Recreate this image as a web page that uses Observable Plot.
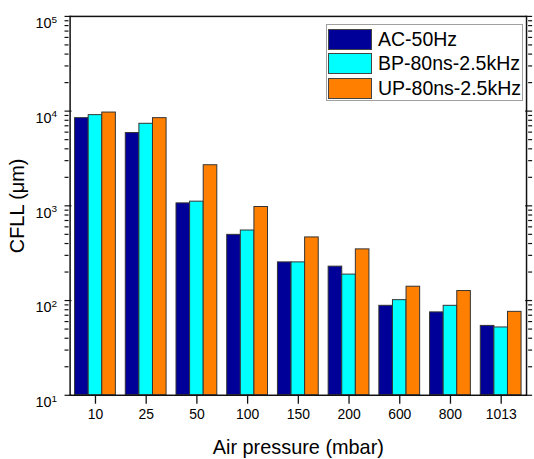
<!DOCTYPE html>
<html><head><meta charset="utf-8">
<script src="https://cdn.jsdelivr.net/npm/d3@7"></script>
<script src="https://cdn.jsdelivr.net/npm/@observablehq/plot@0.6"></script>
<style>
html,body{margin:0;padding:0;overflow:hidden;background:#fff;}
#wrap{position:relative;width:534px;height:459px;overflow:hidden;font-family:"Liberation Sans",Arial,sans-serif;}
#wrap svg{display:block;}
.legend{position:absolute;left:326px;top:24px;width:197px;height:77px;border:1px solid #a0a0a0;background:#fff;box-sizing:border-box;padding-top:2px;}
.legend .row{height:24.5px;display:flex;align-items:center;}
.legend .sw{display:inline-block;width:44px;height:21px;box-sizing:border-box;border:1px solid #444;margin-left:1px;margin-right:6px;}
.legend .lb{font-size:19.5px;color:#000;line-height:1;}
</style></head><body><div id="wrap"></div><script>
const categories = ["10","25","50","100","150","200","600","800","1013"];
const seriesNames = ["AC-50Hz","BP-80ns-2.5kHz","UP-80ns-2.5kHz"];
const acValues = [8430,5870,1062,494,253,228,88,75,54];
const bpValues = [9070,7350,1107,549,253,188,101,88,52];
const upValues = [9660,8430,2683,972,464,347,140,126,76];
const colors = ["#000099","#00FFFF","#FF8000"];
const majorTicks = [10,100,1000,10000,100000];
const minorMultipliers = [2,3,4,5,6,7,8,9];

const minorTicks = majorTicks.slice(0,-1).flatMap(d => minorMultipliers.map(m => m*d));
const seriesValues = [acValues, bpValues, upValues];
const rows = categories.flatMap((c,i) => seriesValues.map((vals,j) => ({cat:c, series:seriesNames[j], value:vals[i]})));

const W = 537, H = 459, mL = 64, mR = 2, mT = 16, mB = 62;
const fxPad = 0.1;
// facet axes sit on the outer facets; shift them back onto the frame edges
const off = fxPad * (W - mL - mR) / (categories.length + 2 * fxPad);

const tickStyle = {text: null, label: null, stroke: "#111", strokeWidth: 1.2};
const chart = Plot.plot({
  width: W, height: H,
  marginLeft: mL, marginRight: mR, marginTop: mT, marginBottom: mB,
  style: {fontFamily: '"Liberation Sans", Arial, sans-serif', fontSize: "14px", color: "#000", background: "#fff", overflow: "visible"},
  fx: {domain: categories, paddingInner: 0, paddingOuter: fxPad, label: null},
  x: {domain: seriesNames, paddingInner: 0, paddingOuter: 0.365, round: false, axis: null},
  y: {type: "log", domain: [10, 1e5]},
  color: {domain: seriesNames, range: colors},
  marks: [
    Plot.barY(rows, {fx: "cat", x: "series", y1: 10, y2: "value", fill: "series", stroke: "#333", strokeWidth: 1}),
    Plot.frame({facet: "super", stroke: "#111", strokeWidth: 1.5}),
    Plot.axisY(majorTicks, {anchor: "left", tickSize: 0, tickPadding: 8, dx: -off, tickFormat: d => "10^" + Math.round(Math.log10(d)), label: null, fontSize: 14.5}),
    Plot.axisY({anchor: "left", ticks: [], tickSize: 0, label: "CFLL (μm)", labelAnchor: "center", labelArrow: "none", dx: -off}),
    Plot.axisY(majorTicks, {...tickStyle, anchor: "left", tickSize: 7, dx: 7 - off}),
    Plot.axisY(minorTicks, {...tickStyle, anchor: "left", tickSize: 4, dx: 4 - off}),
    Plot.axisY(majorTicks, {...tickStyle, anchor: "right", tickSize: 7, dx: -7 + off}),
    Plot.axisY(minorTicks, {...tickStyle, anchor: "right", tickSize: 4, dx: -4 + off}),
    Plot.axisFx({anchor: "bottom", tickSize: 9, tickPadding: 5, fontSize: 14, strokeWidth: 1.3, label: "Air pressure (mbar)", labelAnchor: "center", labelArrow: "none", stroke: "#111"})
  ]
});

const svg = d3.select(chart.tagName.toLowerCase() === "svg" ? chart : chart.querySelector("svg"));
svg.selectAll('[aria-label="y-axis tick label"] text').each(function() {
  const t = this.textContent;
  const parts = t.split("^");
  if (parts.length === 2) {
    const el = d3.select(this);
    el.text(parts[0]);
    el.attr("dy", "0.5em");
    el.append("tspan").attr("dy", "-0.55em").attr("font-size", 10).text(parts[1]);
  }
});
svg.selectAll('[aria-label="y-axis label"] text, [aria-label="fx-axis label"] text').attr("font-size", 20);

document.getElementById("wrap").appendChild(chart);

const legend = d3.select("#wrap").append("div").attr("class", "legend");
seriesNames.forEach((s, i) => {
  const row = legend.append("div").attr("class", "row");
  row.append("span").attr("class", "sw").style("background", colors[i]);
  row.append("span").attr("class", "lb").text(s);
});
</script></body></html>
